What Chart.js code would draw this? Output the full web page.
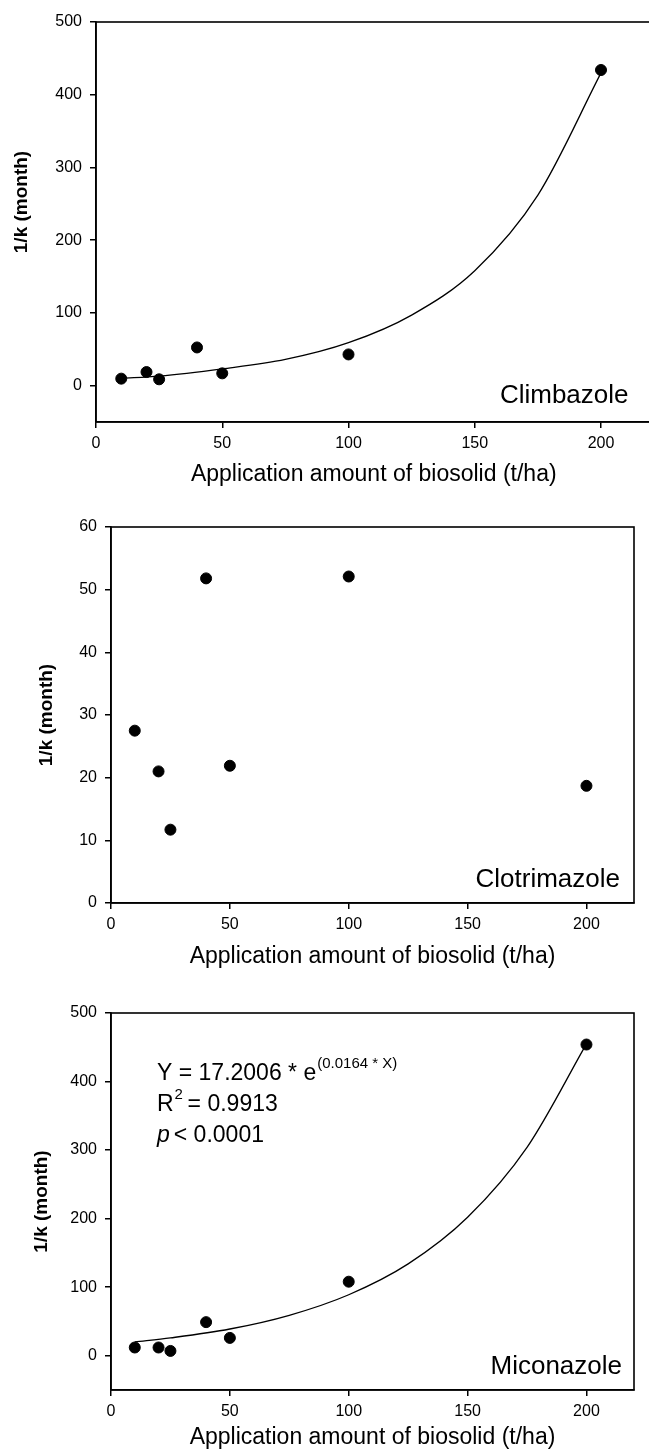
<!DOCTYPE html>
<html lang="en">
<head>
<meta charset="UTF-8">
<title>1/k vs biosolid application</title>
<script src="https://cdn.jsdelivr.net/npm/chart.js"></script>
<style>
    html, body { margin: 0; padding: 0; background: #fff; overflow: hidden; }
    body { width: 649px; height: 1453px; position: relative; }
    canvas { position: absolute; left: 0; }
</style>
</head>
<body>
<canvas id="c1" width="658" height="490" style="top:0"></canvas>
<canvas id="c2" width="649" height="485" style="top:490px"></canvas>
<canvas id="c3" width="649" height="478" style="top:975px"></canvas>

<script>
// application amount of biosolid (t/ha)
const doses = [10, 20, 25, 40, 50, 100, 200];

// 1/k (month)
const climbazole   = [9.6, 18.7, 8.7, 52.5, 16.9, 42.9, 434];
const clotrimazole = [27.5, 21.0, 11.7, 51.8, 21.9, 52.1, 18.7];
const miconazole   = [12, 12, 7, 49, 26, 108, 454];

// fitted curves
const fitX = [10, 25, 50, 75, 100, 125, 150, 175, 200];
const climbazoleFit = [10, 13, 23, 36, 59, 97, 158, 262, 430];
const miconazoleFit = [20, 26, 39, 59, 89, 134, 202, 304, 455];

const xTicks = [0, 50, 100, 150, 200];
const yTicksBig = [0, 100, 200, 300, 400, 500];
const yTicksSmall = [0, 10, 20, 30, 40, 50, 60];

const FONT = "'Liberation Sans', Arial, sans-serif";
Chart.defaults.font.family = FONT;
Chart.defaults.color = '#000';
Chart.defaults.animation = false;

function pts(xs, ys) {
    return xs.map((x, i) => ({ x: x, y: ys[i] }));
}

// box around the plot, y title and the labels inside the plot
const frame = {
    id: 'frame',
    afterDraw(chart, args, opts) {
        const { ctx, chartArea: a } = chart;
        ctx.save();
        ctx.strokeStyle = '#000';
        ctx.lineWidth = 1.6;
        ctx.strokeRect(a.left, a.top, a.right - a.left, a.bottom - a.top);
        ctx.fillStyle = '#000';

        // y title
        ctx.save();
        ctx.translate(opts.yTitleX, (a.top + a.bottom) / 2 + opts.yTitleShift);
        ctx.rotate(-Math.PI / 2);
        ctx.font = 'bold 19px ' + FONT;
        ctx.textAlign = 'center';
        ctx.textBaseline = 'middle';
        ctx.fillText('1/k (month)', 0, 0);
        ctx.restore();

        ctx.font = '26px ' + FONT;
        ctx.textAlign = 'right';
        ctx.textBaseline = 'alphabetic';
        ctx.fillText(opts.name, a.right - opts.nameRight, a.bottom - opts.nameBottom);

        if (opts.eq) {
            const x0 = a.left + 46;
            const y0 = a.top + 67;
            const gap = 31;
            ctx.textAlign = 'left';
            ctx.font = '23px ' + FONT;
            let s = 'Y = 17.2006 * e';
            ctx.fillText(s, x0, y0);
            let w = ctx.measureText(s).width;
            ctx.font = '15px ' + FONT;
            ctx.fillText('(0.0164 * X)', x0 + w + 1, y0 - 12);

            ctx.font = '23px ' + FONT;
            ctx.fillText('R', x0, y0 + gap);
            w = ctx.measureText('R').width;
            ctx.font = '15px ' + FONT;
            ctx.fillText('2', x0 + w + 1, y0 + gap - 12);
            ctx.font = '23px ' + FONT;
            ctx.fillText('= 0.9913', x0 + w + 14, y0 + gap);

            ctx.font = 'italic 23px ' + FONT;
            ctx.fillText('p', x0, y0 + 2 * gap);
            w = ctx.measureText('p').width;
            ctx.font = '23px ' + FONT;
            ctx.fillText('< 0.0001', x0 + w + 4, y0 + 2 * gap);
        }
        ctx.restore();
    }
};

function makeChart(id, cfg) {
    const datasets = [{
        data: pts(doses, cfg.values),
        showLine: false,
        pointRadius: 5.5,
        pointHoverRadius: 5.5,
        pointBackgroundColor: '#000',
        pointBorderColor: '#000',
        order: 1
    }];
    if (cfg.fit) {
        datasets.push({
            data: pts(fitX, cfg.fit),
            showLine: true,
            borderColor: '#000',
            borderWidth: 1.3,
            pointRadius: 0,
            cubicInterpolationMode: 'monotone',
            order: 2
        });
    }
    return new Chart(document.getElementById(id), {
        type: 'scatter',
        data: { datasets: datasets },
        options: {
            responsive: false,
            devicePixelRatio: 1,
            layout: { padding: cfg.padding },
            plugins: {
                legend: { display: false },
                tooltip: { enabled: false },
                frame: cfg.frame
            },
            scales: {
                x: {
                    type: 'linear',
                    min: 0,
                    max: 220,
                    afterBuildTicks: s => { s.ticks = xTicks.map(v => ({ value: v })); },
                    afterFit: s => { s.height = cfg.xHeight; },
                    grid: { display: true, drawOnChartArea: false, tickLength: 6, color: '#000', lineWidth: 1.5 },
                    border: { display: true, color: '#000', width: 1.6 },
                    ticks: { font: { size: 16 }, padding: 6 },
                    title: {
                        display: true,
                        text: 'Application amount of biosolid (t/ha)',
                        font: { size: 23 },
                        padding: { top: 4, bottom: cfg.xTitlePad }
                    }
                },
                y: {
                    type: 'linear',
                    min: cfg.yMin,
                    max: cfg.yMax,
                    afterBuildTicks: s => { s.ticks = cfg.yTicks.map(v => ({ value: v })); },
                    afterFit: s => { s.width = cfg.yWidth; },
                    grid: { display: true, drawOnChartArea: false, tickLength: 6, color: '#000', lineWidth: 1.5 },
                    border: { display: true, color: '#000', width: 1.6 },
                    ticks: { font: { size: 16 }, padding: 8 }
                }
            }
        },
        plugins: [frame]
    });
}

makeChart('c1', {
    values: climbazole, fit: climbazoleFit,
    yMin: -50, yMax: 500, yTicks: yTicksBig,
    yWidth: 96, xHeight: 68, xTitlePad: 2,
    padding: { top: 22, right: 0, bottom: 0, left: 0 },
    frame: { name: 'Climbazole', nameRight: 23, nameBottom: 19, yTitleX: 22, yTitleShift: -20 }
});

makeChart('c2', {
    values: clotrimazole,
    yMin: 0, yMax: 60, yTicks: yTicksSmall,
    yWidth: 111, xHeight: 72, xTitlePad: 5,
    padding: { top: 37, right: 15, bottom: 0, left: 0 },
    frame: { name: 'Clotrimazole', nameRight: 14, nameBottom: 16, yTitleX: 47, yTitleShift: 0 }
});

makeChart('c3', {
    values: miconazole, fit: miconazoleFit,
    yMin: -50, yMax: 500, yTicks: yTicksBig,
    yWidth: 111, xHeight: 63, xTitlePad: 2,
    padding: { top: 38, right: 15, bottom: 0, left: 0 },
    frame: { name: 'Miconazole', nameRight: 12, nameBottom: 16, yTitleX: 42, yTitleShift: 0, eq: true }
});
</script>
</body>
</html>
